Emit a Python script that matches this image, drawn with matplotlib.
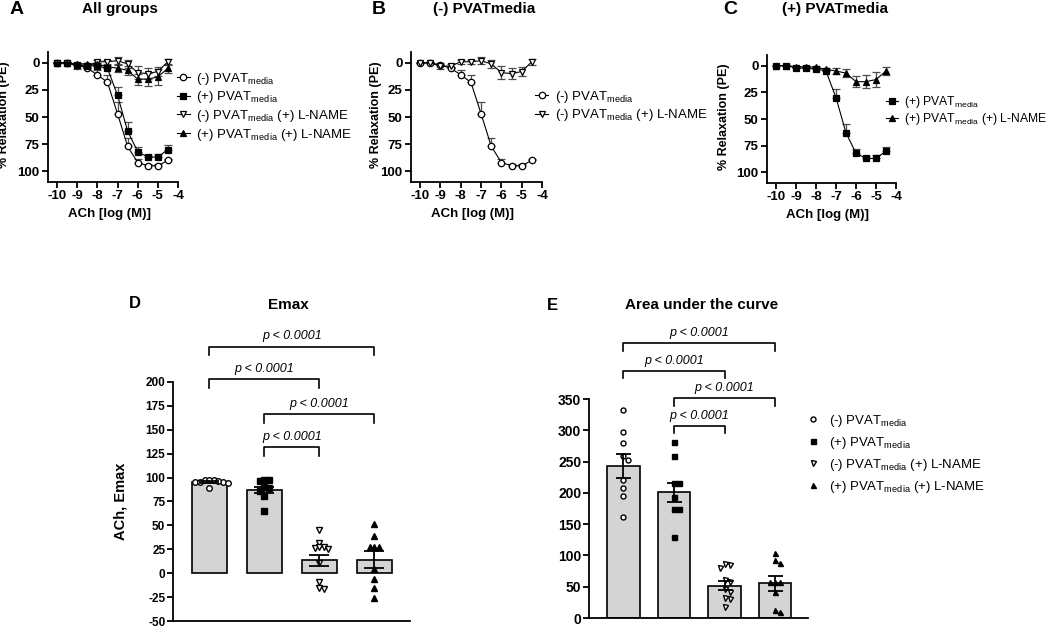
import numpy as np
import matplotlib.pyplot as plt

plt.rcParams['font.family'] = ['Liberation Sans', 'DejaVu Sans']
plt.rcParams['mathtext.fontset'] = 'custom'
plt.rcParams['mathtext.rm'] = 'Liberation Sans'
plt.rcParams['axes.unicode_minus'] = False
plt.rcParams['axes.linewidth'] = 1.3
plt.rcParams['xtick.major.width'] = 1.3
plt.rcParams['ytick.major.width'] = 1.3

W, H = 1050, 627

# --- concentration-response curves (mean, SEM) ---
log_ach = [-10, -9.5, -9, -8.5, -8, -7.5, -7, -6.5, -6, -5.5, -5, -4.5]
neg_pvat = [0, 0, 2, 5, 11, 18, 47, 77, 92, 95, 95, 90]
neg_pvat_sem = [0, 0.5, 1, 1.5, 4, 7, 11, 8, 3, 1.5, 1.5, 1.5]
pos_pvat = [0, 0, 2, 2.5, 3, 5, 30, 63, 82, 87, 87, 80]
pos_pvat_sem = [0, 0.5, 1, 1, 1, 1.5, 8, 8, 4, 2, 3, 4]
neg_lname = [0, 0, 3, 3, -1, -1, -2, 1, 9, 10, 8, -1]
neg_lname_sem = [0.5, 0.5, 3, 2, 2, 2, 3, 4, 6, 5, 4, 3]
pos_lname = [0, 0, 1, 1, 1.5, 3.5, 5, 7, 15, 15, 13, 5]
pos_lname_sem = [0.5, 0.5, 1, 1, 1, 1.5, 3, 4, 5, 6, 7, 4]

# --- Emax per vessel ---
emax_neg_pvat = [98, 95, 94, 95, 95, 97, 89, 96, 98]
emax_pos_pvat = [98, 96, 97, 90, 86, 81, 89, 65]
emax_neg_lname = [45, 32, 27, 25, 26, 27, 11, -9, -17, -15]
emax_pos_lname = [51, 39, 27, 27, 27, 4, -6, -15, -26]
emax_mean = [95.5, 87, 13.5, 14]
emax_sem = [1, 3.5, 6, 9]

# --- AUC per vessel ---
auc_neg_pvat = [333, 298, 279, 252, 259, 220, 207, 195, 162]
auc_pos_pvat = [282, 259, 215, 215, 194, 174, 174, 129]
auc_neg_lname = [84, 86, 80, 61, 57, 46, 41, 32, 30, 18]
auc_pos_lname = [104, 88, 92, 57, 58, 58, 41, 10, 12]
auc_mean = [243, 201, 51.5, 55.5]
auc_sem = [18.5, 15, 7.5, 12]

# significance brackets: (group a, group b) and bracket height
emax_pairs = [(0, 3), (0, 2), (1, 3), (1, 2)]
emax_levels = [237, 203, 166.5, 132]
auc_pairs = [(0, 3), (0, 2), (1, 3), (1, 2)]
auc_levels = [439, 395, 351, 307]
p_text = 'p < 0.0001'

lbl_neg = r'(-) PVAT$_{\mathregular{media}}$'
lbl_pos = r'(+) PVAT$_{\mathregular{media}}$'
lbl_neg_l = r'(-) PVAT$_{\mathregular{media}}$ (+) L-NAME'
lbl_pos_l = r'(+) PVAT$_{\mathregular{media}}$ (+) L-NAME'

styles = {
    'neg': dict(marker='o', mfc='white', mec='black'),
    'pos': dict(marker='s', mfc='black', mec='black'),
    'negl': dict(marker='v', mfc='white', mec='black'),
    'posl': dict(marker='^', mfc='black', mec='black'),
}
curves = {
    'neg': (neg_pvat, neg_pvat_sem, lbl_neg, 'up'),
    'pos': (pos_pvat, pos_pvat_sem, lbl_pos, 'up'),
    'negl': (neg_lname, neg_lname_sem, lbl_neg_l, 'both'),
    'posl': (pos_lname, pos_lname_sem, lbl_pos_l, 'both'),
}


def rect(l, t, r, b):
    return [l / W, 1 - b / H, (r - l) / W, (b - t) / H]


fig = plt.figure(figsize=(W / 100, H / 100), dpi=100)


def curve_panel(box, keys, ylab_x, leg_anchor, leg_spacing, leg_fs=9.5):
    ax = fig.add_axes(rect(*box))
    x = np.array(log_ach)
    for k in keys:
        m, s, lab, mode = curves[k]
        m = np.array(m, float)
        s = np.array(s, float)
        err = [s, np.zeros_like(s)] if mode == 'up' else [s, s]
        ax.errorbar(x, m, yerr=err, fmt='none', ecolor='0.3', elinewidth=0.9,
                    capsize=2.8, capthick=0.9, zorder=2)
        ax.plot(x, m, color='black', lw=0.8, ms=4.6, mew=0.9, label=lab,
                zorder=3, **styles[k])
    ax.set_xlim(-10.45, -4)
    ax.set_ylim(110, -10)
    ax.set_xticks(range(-10, -3))
    ax.set_yticks([0, 25, 50, 75, 100])
    ax.spines[['top', 'right']].set_visible(False)
    ax.tick_params(length=4, labelsize=9.5, pad=2)
    for t in ax.get_xticklabels() + ax.get_yticklabels():
        t.set_fontweight('bold')
    ax.set_ylabel('% Relaxation (PE)', fontsize=9, fontweight='bold')
    ax.yaxis.set_label_coords(ylab_x, 0.52)
    ax.set_xlabel('ACh [log (M)]', fontsize=9.5, fontweight='bold')
    ax.xaxis.set_label_coords(0.47, -0.2)
    ax.legend(loc='center left', bbox_to_anchor=leg_anchor, frameon=False,
              fontsize=leg_fs, handlelength=1.0, handletextpad=0.5,
              labelspacing=leg_spacing, borderpad=0, borderaxespad=0)
    return ax


curve_panel((48, 52, 178, 182), ['neg', 'pos', 'negl', 'posl'], -0.29, (0.99, 0.58), 0.2)
curve_panel((411, 52, 542, 182), ['neg', 'negl'], -0.22, (0.947, 0.585), 0.2)
curve_panel((767, 55, 896, 183), ['pos', 'posl'], -0.29, (0.925, 0.566), 0.05, 8.7)

fig.text(10 / W, 1 - 10 / H, 'A', fontsize=14, fontweight='bold', va='center')
fig.text(82 / W, 1 - 9 / H, 'All groups', fontsize=11, fontweight='bold', va='center')
fig.text(372 / W, 1 - 10 / H, 'B', fontsize=14, fontweight='bold', va='center')
fig.text(433 / W, 1 - 9 / H, '(-) PVATmedia', fontsize=11, fontweight='bold', va='center')
fig.text(723 / W, 1 - 10 / H, 'C', fontsize=14, fontweight='bold', va='center')
fig.text(782 / W, 1 - 9 / H, '(+) PVATmedia', fontsize=11, fontweight='bold', va='center')


def swarm(ax, xc, vals, diam):
    # simple beeswarm in pixel space, returns x positions in data units
    placed = []
    xs = np.zeros(len(vals))
    inv = ax.transData.inverted()
    for i in np.argsort(vals)[::-1]:
        px, py = ax.transData.transform((xc, vals[i]))
        k = 0
        done = False
        while not done:
            cands = [0.0] if k == 0 else [k * diam, -k * diam]
            for c in cands:
                if all((px + c - qx) ** 2 + (py - qy) ** 2 >= (diam * 0.9) ** 2
                       for qx, qy in placed):
                    placed.append((px + c, py))
                    xs[i] = inv.transform((px + c, py))[0]
                    done = True
                    break
            k += 1
    return xs


def bar_panel(box, groups, means, sems, xlim, ylim, yticks, tick_fs, pairs, levels,
              drop, capsize, ms, spread):
    ax = fig.add_axes(rect(*box))
    pos = np.arange(len(means))
    ax.set_xlim(*xlim)
    ax.set_ylim(*ylim)
    ax.bar(pos, means, width=0.64, color='#d4d4d4', edgecolor='black', lw=1.2, zorder=1)
    keys = ['neg', 'pos', 'negl', 'posl']
    for p, vals, k in zip(pos, groups, keys):
        xs = swarm(ax, p, np.array(vals, float), ms * spread)
        ax.plot(xs, vals, ls='none', ms=ms, mew=1.0, zorder=3, **styles[k])
    ax.errorbar(pos, means, yerr=sems, fmt='none', ecolor='black', elinewidth=1.3,
                capsize=capsize, capthick=1.3, zorder=4)
    for (a, b), lv in zip(pairs, levels):
        ax.plot([a, a, b, b], [lv - drop, lv, lv, lv - drop], color='black', lw=1.2,
                clip_on=False)
        ax.annotate(p_text, ((a + b) / 2, lv), xytext=(0, 3), textcoords='offset points',
                    ha='center', va='bottom', fontsize=9, style='italic',
                    annotation_clip=False)
    ax.set_xlim(*xlim)
    ax.set_ylim(*ylim)
    ax.set_yticks(yticks)
    ax.set_xticks([])
    ax.spines[['top', 'right']].set_visible(False)
    ax.tick_params(length=4, labelsize=tick_fs, pad=1.5)
    for t in ax.get_yticklabels():
        t.set_fontweight('bold')
    return ax


axd = bar_panel((173, 382, 410, 621),
                [emax_neg_pvat, emax_pos_pvat, emax_neg_lname, emax_pos_lname],
                emax_mean, emax_sem, (-0.66, 3.65), (-50, 200), range(-50, 201, 25), 8.5,
                emax_pairs, emax_levels, 9, 7, 4.0, 1.15)
axd.set_ylabel('ACh, Emax', fontsize=10.5, fontweight='bold')
axd.yaxis.set_label_coords(-0.19, 0.5)

axe = bar_panel((589, 399, 808, 618),
                [auc_neg_pvat, auc_pos_pvat, auc_neg_lname, auc_pos_lname],
                auc_mean, auc_sem, (-0.68, 3.65), (0, 350), range(0, 351, 50), 10,
                auc_pairs, auc_levels, 12, 5.4, 3.6, 1.4)

handles = [plt.Line2D([], [], ls='none', ms=3.6, mew=1.0, **styles[k])
           for k in ['neg', 'pos', 'negl', 'posl']]
axe.legend(handles, [lbl_neg, lbl_pos, lbl_neg_l, lbl_pos_l], loc='center left',
           bbox_to_anchor=(1.0, 0.75), frameon=False, fontsize=9.5, handlelength=0.8,
           handletextpad=0.8, labelspacing=0.45, borderpad=0, borderaxespad=0)

fig.text(129 / W, 1 - 304 / H, 'D', fontsize=12, fontweight='bold', va='center')
fig.text(288 / W, 1 - 305 / H, 'Emax', fontsize=11, fontweight='bold', va='center', ha='center')
fig.text(547 / W, 1 - 305 / H, 'E', fontsize=12, fontweight='bold', va='center')
fig.text(702 / W, 1 - 305 / H, 'Area under the curve', fontsize=11, fontweight='bold',
         va='center', ha='center')

fig.savefig('out.png', dpi=100)
